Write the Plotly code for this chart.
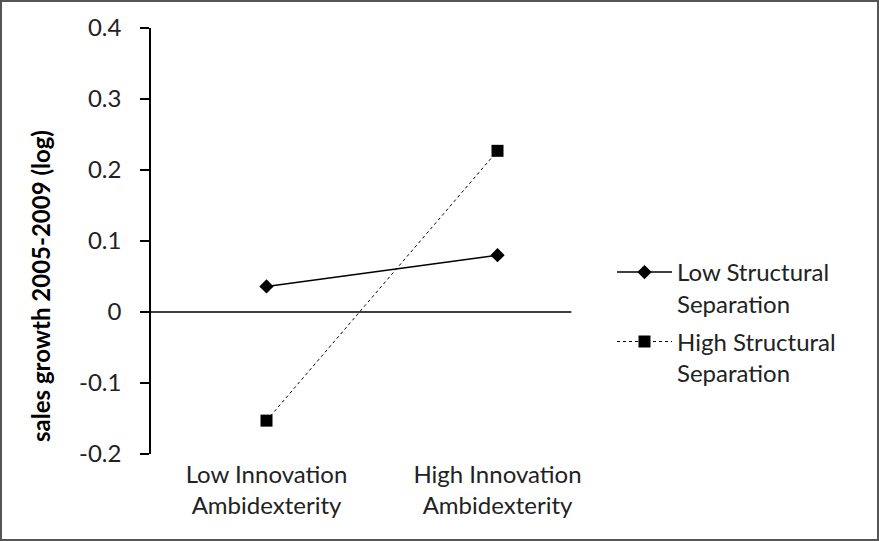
import plotly.graph_objects as go

categories = ["Low Innovation<br>Ambidexterity", "High Innovation<br>Ambidexterity"]
low_sep = [0.036, 0.080]
high_sep = [-0.153, 0.227]
series_names = ["Low Structural<br>Separation", "High Structural<br>Separation"]
y_ticks = [-0.2, -0.1, 0, 0.1, 0.2, 0.3, 0.4]
y_tick_text = ["-0.2", "-0.1", "0", "0.1", "0.2", "0.3", "0.4"]

W, H = 879, 541
ML, MR, MT, MB = 151, 266, 28, 87
PW, PH = W - ML - MR, H - MT - MB

FONT = "Lato, 'Open Sans', sans-serif"

fig = go.Figure()
fig.add_trace(go.Scatter(
    x=[0, 1], y=low_sep, name=series_names[0], mode="lines+markers",
    legendgroup="low",
    line=dict(color="black", width=1.5),
    marker=dict(symbol="diamond", size=11, color="black"),
))
fig.add_trace(go.Scatter(
    x=[0, 1], y=high_sep, name=series_names[1], mode="lines+markers",
    legendgroup="high",
    line=dict(color="black", width=1, dash="dot"),
    marker=dict(symbol="square", size=12, color="black"),
))

# zero axis line
fig.add_shape(type="line", xref="x", yref="y", x0=-0.5, x1=1.32, y0=0, y1=0,
              line=dict(color="black", width=1.5))
# outer frame
fig.add_shape(type="rect", xref="paper", yref="paper",
              x0=(-ML + 1) / PW, x1=(PW + MR - 1) / PW,
              y0=(-MB + 1) / PH, y1=(PH + MT - 1) / PH,
              line=dict(color="#555555", width=2))

fig.add_annotation(text="<b>sales growth 2005-2009 (log)</b>", textangle=-90,
                   xref="paper", yref="paper", x=(40 - ML) / PW, y=(454 - 286) / PH,
                   showarrow=False, font=dict(family=FONT, size=24, color="black"),
                   xanchor="center", yanchor="middle")

fig.update_layout(
    width=W, height=H,
    margin=dict(l=ML, r=MR, t=MT, b=MB),
    paper_bgcolor="white", plot_bgcolor="white",
    font=dict(family=FONT, size=24, color="#222222"),
    showlegend=True,
    legend=dict(x=(612 - ML) / PW, y=(454 - 250) / PH, xanchor="left", yanchor="top",
                font=dict(size=24, color="#222222"), bgcolor="rgba(0,0,0,0)",
                valign="top", itemwidth=55, traceorder="grouped", tracegroupgap=4),
    xaxis=dict(range=[-0.5, 1.5], tickvals=[0, 1], ticktext=categories,
               showline=False, showgrid=False, zeroline=False, ticks="",
               ticklabelstandoff=4, fixedrange=True),
    yaxis=dict(range=[-0.2, 0.4], tickvals=y_ticks, ticktext=y_tick_text,
               showline=True, linecolor="black", linewidth=1.5,
               ticks="outside", ticklen=9, tickcolor="black", tickwidth=1.5,
               showgrid=False, zeroline=False, ticklabelstandoff=14,
               fixedrange=True),
)

fig.write_html("out.html", config={"displayModeBar": False},
               post_script="document.body.style.margin='0';")
